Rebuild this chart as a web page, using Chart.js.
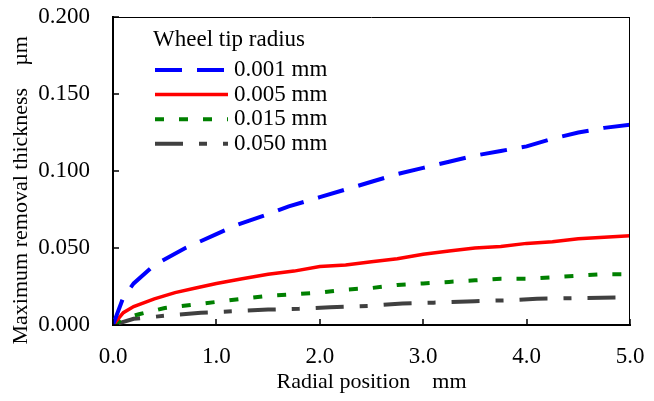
<!DOCTYPE html>
<html>
<head>
<meta charset="utf-8">
<script src="https://cdn.jsdelivr.net/npm/chart.js@4.4.1/dist/chart.umd.min.js"></script>
<style>
html, body { margin: 0; padding: 0; background: #fff; }
#wrap { width: 654px; height: 401px; }
</style>
</head>
<body>
<div id="wrap"><canvas id="chart" width="654" height="401"></canvas></div>
<script>
// Series values
const r001X = [0, 0.1, 0.2, 0.4, 0.7, 1.0, 1.2, 1.5, 1.7, 2.0, 2.3, 2.5, 2.75, 3.0, 3.25, 3.5, 3.75, 4.0, 4.25, 4.5, 4.75, 5.0];
const r001Y = [0, 0.018, 0.027, 0.039, 0.050, 0.059, 0.065, 0.072, 0.077, 0.083, 0.089, 0.093, 0.098, 0.102, 0.106, 0.110, 0.113, 0.116, 0.121, 0.125, 0.128, 0.130];

const r005X = [0, 0.1, 0.2, 0.4, 0.6, 0.8, 1.0, 1.25, 1.5, 1.75, 2.0, 2.25, 2.5, 2.75, 3.0, 3.25, 3.5, 3.75, 4.0, 4.25, 4.5, 4.75, 5.0];
const r005Y = [0, 0.008, 0.012, 0.017, 0.021, 0.024, 0.027, 0.030, 0.033, 0.035, 0.038, 0.039, 0.041, 0.043, 0.046, 0.048, 0.050, 0.051, 0.053, 0.054, 0.056, 0.057, 0.058];

const r015X = [0, 0.1, 0.25, 0.5, 0.75, 1.0, 1.25, 1.5, 1.75, 2.0, 2.25, 2.5, 2.75, 3.0, 3.25, 3.5, 3.75, 4.0, 4.25, 4.5, 4.75, 5.0];
const r015Y = [0, 0.004, 0.007, 0.011, 0.013, 0.015, 0.017, 0.019, 0.020, 0.021, 0.023, 0.024, 0.026, 0.027, 0.028, 0.029, 0.030, 0.030, 0.031, 0.032, 0.033, 0.033];

const r050X = [0, 0.2, 0.5, 0.85, 1.2, 1.5, 1.8, 2.1, 2.5, 2.8, 3.1, 3.5, 3.8, 4.1, 4.5, 5.0];
const r050Y = [0, 0.004, 0.006, 0.008, 0.009, 0.010, 0.0105, 0.0115, 0.0125, 0.014, 0.0145, 0.0155, 0.016, 0.017, 0.0175, 0.018];

const seriesLabels = ['0.001 mm', '0.005 mm', '0.015 mm', '0.050 mm'];
const legendTitle = 'Wheel tip radius';
const xTitle = 'Radial position    mm';
const yTitle = 'Maximum removal thickness    µm';

const FONT = '"Liberation Serif", "Times New Roman", serif';

function toPoints(xs, ys) {
    return xs.map((x, i) => ({ x: x, y: ys[i] }));
}

// inward tick marks plus thin top/right frame
const frameAndTicks = {
    id: 'frameAndTicks',
    afterDraw(chart) {
        const { ctx, chartArea: a, scales: { x, y } } = chart;
        ctx.save();
        ctx.strokeStyle = '#000';
        ctx.lineWidth = 1;
        ctx.beginPath();
        ctx.moveTo(a.left, a.top + 0.5);
        ctx.lineTo(a.right, a.top + 0.5);
        ctx.moveTo(a.right - 0.5, a.top);
        ctx.lineTo(a.right - 0.5, a.bottom);
        ctx.stroke();

        ctx.lineWidth = 1.5;
        ctx.beginPath();
        x.ticks.forEach(t => {
            const px = Math.round(x.getPixelForValue(t.value));
            ctx.moveTo(px, a.bottom);
            ctx.lineTo(px, a.bottom - 6);
        });
        y.ticks.forEach(t => {
            const py = Math.round(y.getPixelForValue(t.value));
            ctx.moveTo(a.left, py);
            ctx.lineTo(a.left + 6, py);
        });
        ctx.stroke();
        ctx.restore();
    }
};

// legend inside the plot area
const legendBox = {
    id: 'legendBox',
    afterDraw(chart) {
        const ctx = chart.ctx;
        ctx.save();
        ctx.font = '23px ' + FONT;
        ctx.fillStyle = '#000';
        ctx.textBaseline = 'middle';
        ctx.textAlign = 'left';
        ctx.fillText(legendTitle, 153, 40);
        chart.data.datasets.forEach((ds, i) => {
            const yy = 70 + i * 24.6;
            ctx.strokeStyle = ds.borderColor;
            ctx.lineWidth = ds.borderWidth;
            ctx.setLineDash(ds.borderDash || []);
            ctx.beginPath();
            ctx.moveTo(155, yy);
            ctx.lineTo(228, yy);
            ctx.stroke();
            ctx.setLineDash([]);
            ctx.fillText(ds.label, 234, yy);
        });
        ctx.restore();
    }
};

const chart = new Chart(document.getElementById('chart').getContext('2d'), {
    type: 'line',
    data: {
        datasets: [
            {
                label: seriesLabels[0],
                data: toPoints(r001X, r001Y),
                borderColor: '#0000ff',
                borderWidth: 4,
                borderDash: [27, 15]
            },
            {
                label: seriesLabels[1],
                data: toPoints(r005X, r005Y),
                borderColor: '#ff0000',
                borderWidth: 3.5
            },
            {
                label: seriesLabels[2],
                data: toPoints(r015X, r015Y),
                borderColor: '#008000',
                borderWidth: 4,
                borderDash: [9, 15]
            },
            {
                label: seriesLabels[3],
                data: toPoints(r050X, r050Y),
                borderColor: '#404040',
                borderWidth: 4,
                borderDash: [28, 16, 8, 16]
            }
        ]
    },
    options: {
        responsive: false,
        animation: false,
        layout: {
            padding: { left: 0, right: 24, top: 17, bottom: 0 }
        },
        elements: {
            point: { radius: 0 },
            line: { tension: 0, fill: false, borderCapStyle: 'butt' }
        },
        scales: {
            x: {
                type: 'linear',
                min: 0,
                max: 5,
                afterFit(scale) {
                    scale.height = 76;
                    scale.paddingLeft = 0;
                    scale.paddingRight = 0;
                },
                ticks: {
                    stepSize: 1,
                    color: '#000',
                    padding: 18,
                    maxRotation: 0,
                    font: { family: FONT, size: 23 },
                    callback: v => v.toFixed(1)
                },
                grid: { display: false, drawTicks: false },
                border: { display: true, color: '#000', width: 2 },
                title: {
                    display: true,
                    text: xTitle,
                    color: '#000',
                    padding: { top: 0, bottom: 6 },
                    font: { family: FONT, size: 22 }
                }
            },
            y: {
                min: 0,
                max: 0.2,
                afterFit(scale) {
                    scale.width = 113;
                    scale.paddingTop = 0;
                    scale.paddingBottom = 0;
                },
                ticks: {
                    stepSize: 0.05,
                    color: '#000',
                    padding: 23,
                    font: { family: FONT, size: 23 },
                    callback: v => v.toFixed(3)
                },
                grid: { display: false, drawTicks: false },
                border: { display: true, color: '#000', width: 2 },
                title: {
                    display: true,
                    text: yTitle + '       ',
                    color: '#000',
                    padding: { top: 8, bottom: 0 },
                    font: { family: FONT, size: 22 }
                }
            }
        },
        plugins: {
            legend: { display: false },
            tooltip: { enabled: false }
        }
    },
    plugins: [frameAndTicks, legendBox]
});
</script>
</body>
</html>
